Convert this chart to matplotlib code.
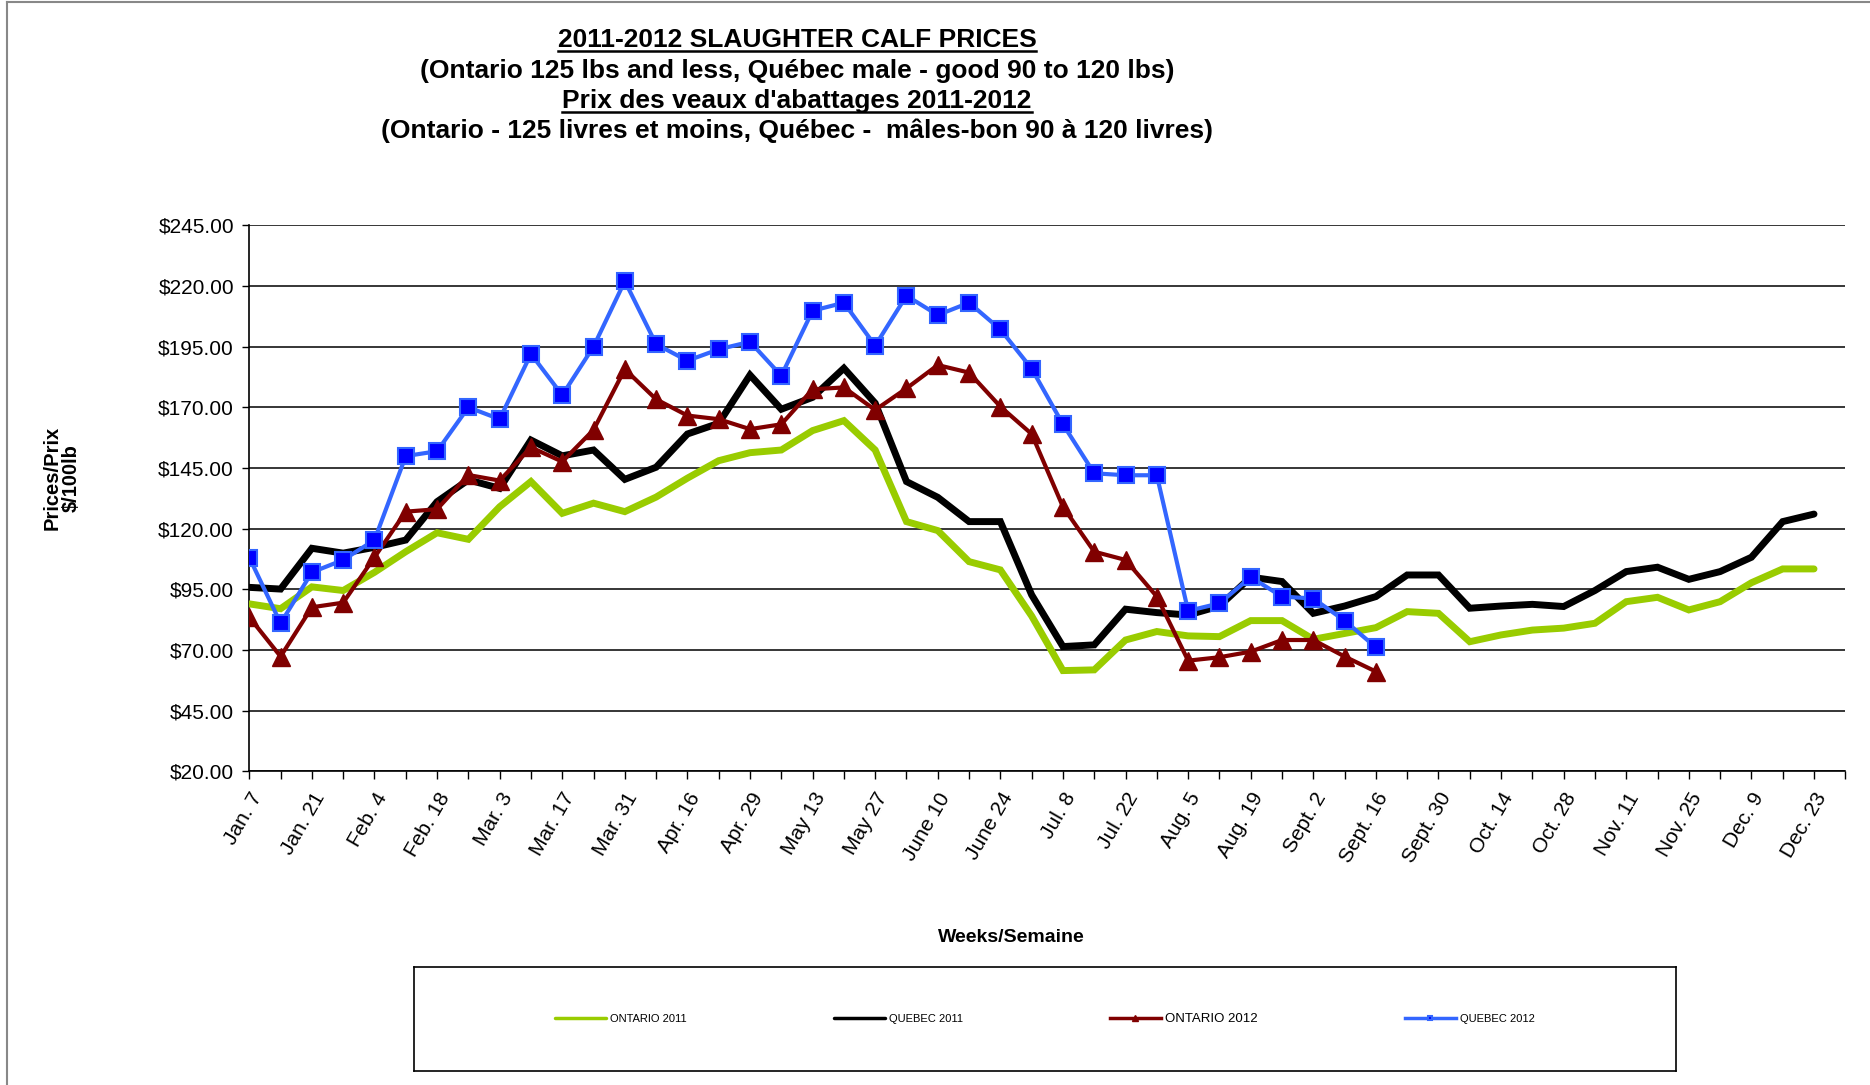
import matplotlib
matplotlib.use("Agg")
import matplotlib.pyplot as plt
from matplotlib.lines import Line2D
import numpy as np

plt.rcParams['font.family'] = ['Liberation Sans', 'DejaVu Sans']

# ---------------- data ----------------
n_weeks = 52
tick_labels = ["Jan. 7", "Jan. 21", "Feb. 4", "Feb. 18", "Mar. 3", "Mar. 17", "Mar. 31",
               "Apr. 16", "Apr. 29", "May 13", "May 27", "June 10", "June 24", "Jul. 8",
               "Jul. 22", "Aug. 5", "Aug. 19", "Sept. 2", "Sept. 16", "Sept. 30",
               "Oct. 14", "Oct. 28", "Nov. 11", "Nov. 25", "Dec. 9", "Dec. 23"]

ontario_2011 = [89, 87, 96, 94.5, 102, 110.5, 118.3, 115.6, 129, 139.4, 126.3, 130.5, 127,
                133, 140.8, 148, 151.3, 152.4, 160.4, 164.5, 152.4, 122.9, 119.2, 106.4, 103,
                84, 61.5, 61.8, 74.1, 77.6, 75.8, 75.5, 82.1, 82.1, 74.4, 76.8, 79.2, 85.8,
                85.1, 73.4, 76.2, 78.2, 79, 81, 89.9, 91.7, 86.5, 89.9, 97.7, 103.4, 103.4]
quebec_2011 = [95.8, 95.1, 111.9, 109.9, 112.3, 115.3, 131.1, 140.1, 136.6, 156.5, 150,
               152.4, 140.3, 145.3, 159, 163.4, 183.3, 169.2, 174.1, 186.1, 171.7, 139.4,
               132.9, 122.9, 122.9, 92.7, 71.4, 72.1, 86.8, 85.4, 84.4, 88.1, 100, 98.2,
               85.1, 88.1, 92, 100.9, 100.9, 87.2, 88.1, 88.8, 87.9, 94.5, 102.3, 104.1,
               99.1, 102.3, 108.2, 122.9, 126]
ontario_2012 = [83.5, 67.3, 87.6, 89.5, 108.2, 127, 128, 142.1, 139.8, 153.5, 147.6, 160.7,
                185.7, 173.3, 166.6, 165.1, 161, 163, 177.4, 178.2, 168.9, 177.8, 187.4,
                184.3, 170.3, 159, 129, 110.5, 107.1, 92, 65.6, 67, 69.3, 74.1, 74.1, 67.3,
                61.1]
quebec_2012 = [108.1, 81, 102, 107.1, 115.3, 149.9, 151.9, 170, 165.1, 192, 175, 195, 222,
               196, 189.2, 193.9, 197, 183, 209.8, 213.1, 195.4, 216, 208, 213.1, 202.1,
               185.9, 163, 142.8, 142, 142, 86.1, 89.2, 100, 92, 91.2, 82.1, 71.1]

series_names = ["ONTARIO 2011", "QUEBEC 2011", "ONTARIO 2012", "QUEBEC 2012"]
y_ticks = [20, 45, 70, 95, 120, 145, 170, 195, 220, 245]

# ---------------- figure ----------------
W, H = 1870, 1085
fig = plt.figure(figsize=(W / 100, H / 100), dpi=100)

def fx(px):
    return px / W

def fy(py):
    return 1 - py / H

ax = fig.add_axes([fx(249.3), fy(771.3), fx(1845.3) - fx(249.3), fy(225.3) - fy(771.3)])

ax.plot(np.arange(len(ontario_2011)), ontario_2011, color="#99CC00", lw=5,
        solid_joinstyle="miter", solid_capstyle="round", label=series_names[0], zorder=3)
ax.plot(np.arange(len(quebec_2011)), quebec_2011, color="black", lw=5,
        solid_joinstyle="miter", solid_capstyle="round", label=series_names[1], zorder=4)
ax.plot(np.arange(len(ontario_2012)), ontario_2012, color="#800000", lw=3,
        marker="^", markersize=13, markerfacecolor="#800000", markeredgecolor="#800000",
        label=series_names[2], zorder=5)
ax.plot(np.arange(len(quebec_2012)), quebec_2012, color="#3366FF", lw=3,
        marker="s", markersize=12, markerfacecolor="#0000FF", markeredgecolor="#3366FF",
        markeredgewidth=1.5, label=series_names[3], zorder=6)

ax.set_xlim(0, n_weeks - 1)
ax.set_ylim(20, 245)
ax.set_yticks(y_ticks)
ax.set_yticklabels([f"${v:.2f}" for v in y_ticks], fontsize=15)
ax.yaxis.grid(True, color="black", lw=1.1)
ax.set_axisbelow(True)

ax.set_xticks(np.arange(0, n_weeks, 1), minor=True)
ax.set_xticks(np.arange(0, 2 * len(tick_labels), 2))
ax.set_xticklabels(tick_labels, fontsize=15, rotation=60, ha="right", va="top",
                   rotation_mode="anchor")
ax.tick_params(axis="x", which="both", direction="out", length=6, width=1, pad=7)
ax.tick_params(axis="y", direction="out", length=5, width=1, pad=6)

for s in ["top", "right"]:
    ax.spines[s].set_visible(False)
ax.spines["left"].set_linewidth(1.2)
ax.spines["bottom"].set_linewidth(1.2)

# axis titles
fig.text(fx(62), fy(478), "Prices/Prix\n$/100lb", rotation=90, ha="center", va="center",
         fontsize=14.5, fontweight="bold", linespacing=1.0)
fig.text(fx(1011), fy(938), "Weeks/Semaine", ha="center", va="center",
         fontsize=14, fontweight="bold")

# title lines
title_lines = [
    ("2011-2012 SLAUGHTER CALF PRICES", 40, True),
    ("(Ontario 125 lbs and less, Québec male - good 90 to 120 lbs)", 71, False),
    ("Prix des veaux d'abattages 2011-2012", 101, True),
    ("(Ontario - 125 livres et moins, Québec -  mâles-bon 90 à 120 livres)", 131, False),
]
title_texts = []
for txt, ypx, und in title_lines:
    t = fig.text(fx(797), fy(ypx), txt, ha="center", va="center", fontsize=19,
                 fontweight="bold")
    title_texts.append((t, und))

fig.canvas.draw()
renderer = fig.canvas.get_renderer()
for t, und in title_texts:
    if und:
        bb = t.get_window_extent(renderer=renderer)
        yline = bb.y0 + 1
        fig.add_artist(Line2D([bb.x0 / W, bb.x1 / W], [yline / H, yline / H],
                              color="black", lw=1.8, transform=fig.transFigure))

# legend box
lax = fig.add_axes([fx(414), fy(1071), fx(1676) - fx(414), fy(967) - fy(1071)])
lax.set_xticks([])
lax.set_yticks([])
for s in lax.spines.values():
    s.set_linewidth(1.2)
handles, labels = ax.get_legend_handles_labels()
leg = lax.legend(handles, labels, loc="center", ncol=4, frameon=False, fontsize=8,
                 handlelength=4.6, columnspacing=13.2, handletextpad=0.4,
                 markerscale=0.3)
for h in leg.legend_handles:
    h.set_linewidth(2.5)
leg.get_texts()[2].set_fontsize(9.5)

# outer border (left and top)
fig.add_artist(Line2D([fx(7), fx(7)], [0, fy(2)], color="#888888", lw=1.5,
                      transform=fig.transFigure))
fig.add_artist(Line2D([fx(7), 1], [fy(2), fy(2)], color="#888888", lw=1.5,
                      transform=fig.transFigure))

fig.savefig("out.png", dpi=100)
